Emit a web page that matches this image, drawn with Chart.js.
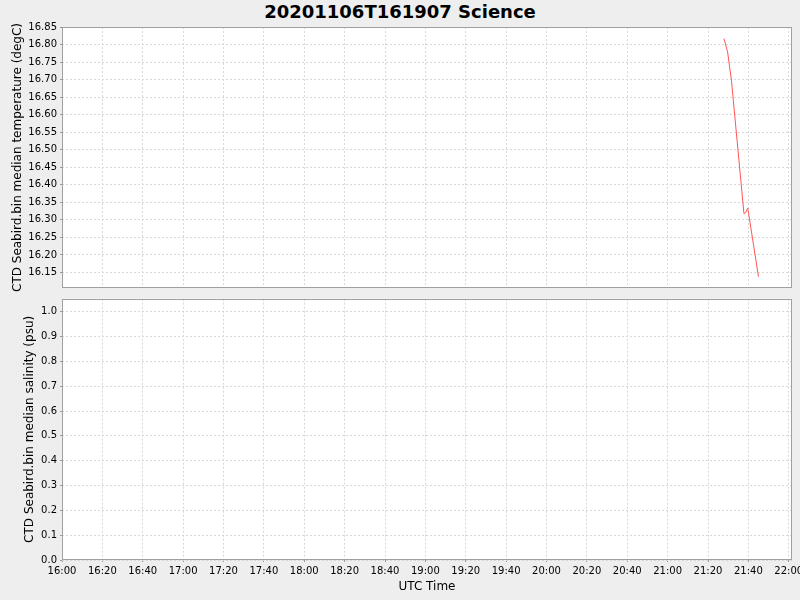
<!DOCTYPE html>
<html>
<head>
<meta charset="utf-8">
<script src="https://cdn.jsdelivr.net/npm/chart.js@4.4.0/dist/chart.umd.min.js"></script>
<style>
  html, body { margin: 0; padding: 0; background: #eeeeee; }
  #top { position: absolute; left: 0; top: 0; width: 800px; height: 292px; }
  #bottom { position: absolute; left: 0; top: 292px; width: 800px; height: 308px; }
  #title { position: absolute; left: 0; top: 1px; width: 800px; text-align: center;
           font: bold 18px "DejaVu Sans"; color: #000; }
</style>
</head>
<body>
<div id="title">20201106T161907 Science</div>
<div id="top"><canvas id="tempChart"></canvas></div>
<div id="bottom"><canvas id="salChart"></canvas></div>
<script>
// measurement times (UTC) and values
var tempTimes = ["21:27:54", "21:29:42", "21:31:36", "21:37:48", "21:38:30", "21:39:42", "21:45:00"];
var tempValues = [16.817, 16.779, 16.698, 16.318, 16.320, 16.333, 16.138];
var salTimes = [];
var salValues = [];

var timeTicks = ["16:00", "16:20", "16:40", "17:00", "17:20", "17:40", "18:00", "18:20", "18:40",
  "19:00", "19:20", "19:40", "20:00", "20:20", "20:40", "21:00", "21:20", "21:40", "22:00"];
var tempTicks = [16.15, 16.20, 16.25, 16.30, 16.35, 16.40, 16.45, 16.50, 16.55,
  16.60, 16.65, 16.70, 16.75, 16.80, 16.85];
var salTicks = [0.0, 0.1, 0.2, 0.3, 0.4, 0.5, 0.6, 0.7, 0.8, 0.9, 1.0];

function toMin(s) {
  var p = s.split(":");
  return (+p[0]) * 60 + (+p[1]) + (p[2] ? (+p[2]) / 60 : 0);
}
function fmtMin(v) {
  var h = Math.floor(v / 60), m = Math.round(v - h * 60);
  return (h < 10 ? "0" : "") + h + ":" + (m < 10 ? "0" : "") + m;
}
function points(times, vals) {
  return times.map(function (t, i) { return { x: toMin(t), y: vals[i] }; });
}

var xMin = 960, xMax = 1321.6;
var gridColor = "#d8d8d8";
var font = { family: "DejaVu Sans", size: 10 };

var framePlugin = {
  id: "frame",
  beforeDraw: function (chart) {
    var a = chart.chartArea, ctx = chart.ctx;
    ctx.save();
    ctx.fillStyle = "#ffffff";
    ctx.fillRect(a.left, a.top, a.right - a.left, a.bottom - a.top);
    ctx.restore();
  },
  afterDraw: function (chart) {
    var a = chart.chartArea, ctx = chart.ctx;
    ctx.save();
    ctx.strokeStyle = "#a0a0a0";
    ctx.lineWidth = 1;
    ctx.strokeRect(Math.round(a.left) + 0.5, Math.round(a.top) + 0.5,
      Math.round(a.right - a.left) - 1, Math.round(a.bottom - a.top) - 1);
    ctx.restore();
  }
};

function xAxis(showLabels) {
  return {
    type: "linear",
    min: xMin,
    max: xMax,
    afterBuildTicks: function (s) { s.ticks = timeTicks.map(function (t) { return { value: toMin(t) }; }); },
    afterFit: function (s) { s.paddingLeft = 0; s.paddingRight = 0; },
    grid: { color: gridColor, drawTicks: showLabels, tickLength: 2, tickColor: "#999999" },
    border: { display: false, dash: [2, 2] },
    ticks: {
      display: showLabels, color: "#000", font: font, padding: 3, maxRotation: 0, autoSkip: false,
      callback: function (v) { return fmtMin(v); }
    },
    title: {
      display: showLabels, text: "UTC Time", color: "#000",
      font: { family: "DejaVu Sans", size: 12 }, padding: { top: 0, bottom: 5.6 }
    }
  };
}

function yAxis(min, max, ticks, digits, title, titlePad) {
  return {
    type: "linear",
    min: min,
    max: max,
    afterBuildTicks: function (s) { s.ticks = ticks.map(function (v) { return { value: v }; }); },
    afterFit: function (s) { s.width = 62; s.paddingTop = 0; s.paddingBottom = 0; },
    grid: { color: gridColor, tickLength: 2, tickColor: "#999999" },
    border: { display: false, dash: [2, 2] },
    ticks: {
      color: "#000", font: font, padding: 3,
      callback: function (v) { return v.toFixed(digits); }
    },
    title: {
      display: true, text: title, color: "#000",
      font: { family: "DejaVu Sans", size: 12 }, padding: { top: titlePad, bottom: 0 }
    }
  };
}

new Chart("tempChart", {
  type: "line",
  data: {
    datasets: [{
      data: points(tempTimes, tempValues),
      borderColor: "#ff5555",
      borderWidth: 1,
      pointRadius: 0,
      tension: 0
    }]
  },
  options: {
    responsive: true,
    maintainAspectRatio: false,
    animation: false,
    layout: { padding: { top: 27, bottom: 4, left: 0, right: 8 } },
    plugins: { legend: { display: false }, tooltip: { enabled: false } },
    scales: {
      x: xAxis(false),
      y: yAxis(16.1057, 16.85, tempTicks, 2, "CTD Seabird.bin median temperature (degC)", 11)
    }
  },
  plugins: [framePlugin]
});

new Chart("salChart", {
  type: "line",
  data: {
    datasets: [{
      data: points(salTimes, salValues),
      borderColor: "#ff5555",
      borderWidth: 1,
      pointRadius: 0,
      tension: 0
    }]
  },
  options: {
    responsive: true,
    maintainAspectRatio: false,
    animation: false,
    layout: { padding: { top: 6.7, bottom: 0, left: 0, right: 8 } },
    plugins: { legend: { display: false }, tooltip: { enabled: false } },
    scales: {
      x: xAxis(true),
      y: yAxis(0, 1.0525, salTicks, 1, "CTD Seabird.bin median salinity (psu)", 23)
    }
  },
  plugins: [framePlugin]
});
</script>
</body>
</html>
